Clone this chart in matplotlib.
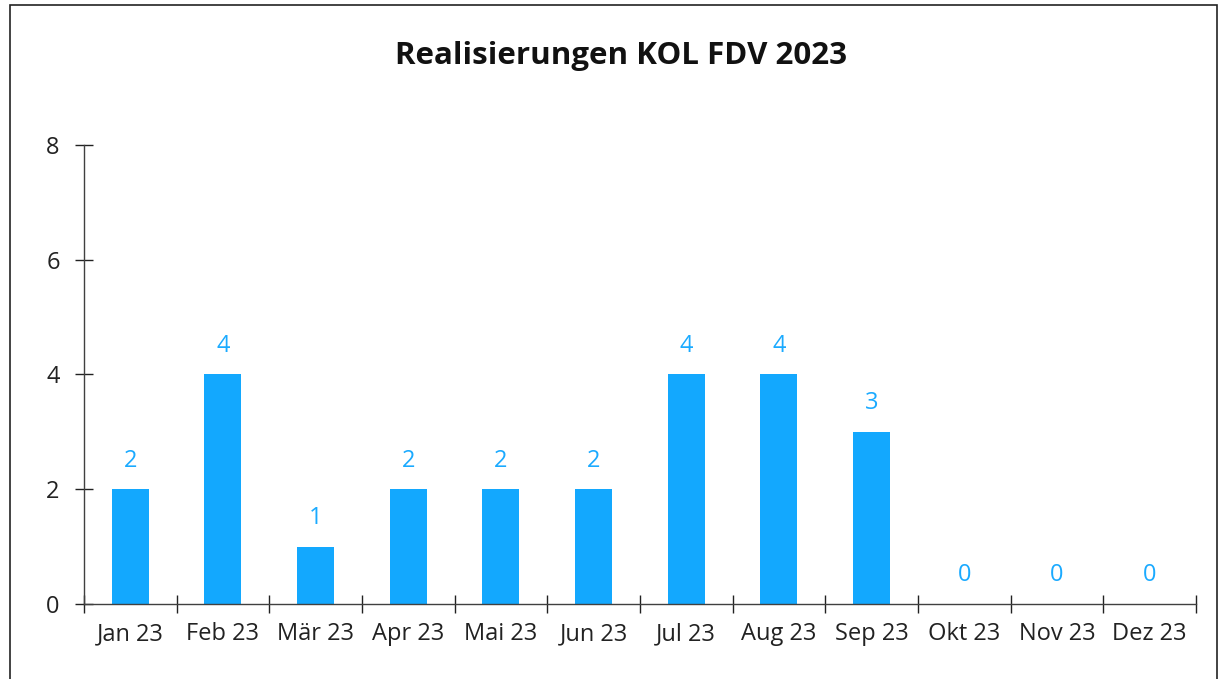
import matplotlib
matplotlib.use("Agg")
import matplotlib.pyplot as plt
from matplotlib.patches import Rectangle

months = ['Jan 23', 'Feb 23', 'Mär 23', 'Apr 23', 'Mai 23', 'Jun 23',
          'Jul 23', 'Aug 23', 'Sep 23', 'Okt 23', 'Nov 23', 'Dez 23']
counts = [2, 4, 1, 2, 2, 2, 4, 4, 3, 0, 0, 0]
yticks = [0, 2, 4, 6, 8]

bar_color = '#13A8FE'
label_color = '#1AAAFF'
axis_color = '#404040'

plt.rcParams['font.family'] = ['Open Sans', 'DejaVu Sans']

fig = plt.figure(figsize=(12.22, 6.79), dpi=100)
ax = fig.add_axes([0.0687, 0.1105, 0.910, 0.676])

x = list(range(len(months)))
bars = ax.bar(x, counts, width=0.4, color=bar_color)
ax.bar_label(bars, labels=[str(c) for c in counts], padding=12,
             color=label_color, fontsize=17)

ax.set_xlim(-0.5, len(months) - 0.5)
ax.set_ylim(0, 8)
ax.set_yticks(yticks)

ax.set_xticks(x)
ax.set_xticklabels(months, fontsize=17, color='#222222')
ax.set_xticks([i - 0.5 for i in range(len(months) + 1)], minor=True)
ax.tick_params(axis='x', which='major', length=0, pad=13)
ax.tick_params(axis='x', which='minor', direction='inout', length=13,
               width=1, color='#222222')
ax.tick_params(axis='y', direction='inout', length=13, width=1,
               color='#222222', labelsize=17, labelcolor='#222222', pad=11)

for side in ['top', 'right']:
    ax.spines[side].set_visible(False)
for side in ['left', 'bottom']:
    ax.spines[side].set_color(axis_color)
    ax.spines[side].set_linewidth(1.0)

fig.text(0.5086, 0.917, 'Realisierungen KOL FDV 2023', ha='center', va='center',
         fontsize=22.5, fontweight='bold', color='#111111')

# outer frame of the chart (bottom edge sits outside the image)
fig.patches.append(Rectangle((0.0078, -0.05), 0.9881, 1.0419, transform=fig.transFigure,
                             fill=False, edgecolor='#222222', linewidth=1.2))

fig.savefig('out.png', dpi=100)
